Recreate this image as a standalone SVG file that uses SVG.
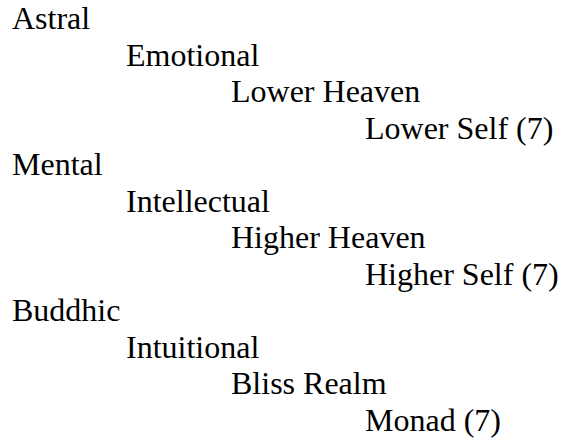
<svg xmlns="http://www.w3.org/2000/svg" width="561" height="440" viewBox="0 0 561 440">
<style>
text{font-family:"Liberation Serif","Times New Roman",serif;font-size:32px;fill:#000}
</style>
<rect width="561" height="440" fill="#fff"/>
<g id="astral"><text x="12" y="29">Astral</text></g>
<g id="emotional"><text x="126" y="65.5">Emotional</text></g>
<g id="lower-heaven"><text x="231" y="102">Lower Heaven</text></g>
<g id="lower-self"><text x="365" y="138.5">Lower Self (7)</text></g>
<g id="mental"><text x="12" y="175">Mental</text></g>
<g id="intellectual"><text x="126" y="211.5">Intellectual</text></g>
<g id="higher-heaven"><text x="231" y="248">Higher Heaven</text></g>
<g id="higher-self"><text x="365" y="284.5">Higher Self (7)</text></g>
<g id="buddhic"><text x="12" y="321">Buddhic</text></g>
<g id="intuitional"><text x="126" y="357.5">Intuitional</text></g>
<g id="bliss-realm"><text x="231" y="394">Bliss Realm</text></g>
<g id="monad"><text x="365" y="430.5">Monad (7)</text></g>
<g id="connectors"/>
</svg>
